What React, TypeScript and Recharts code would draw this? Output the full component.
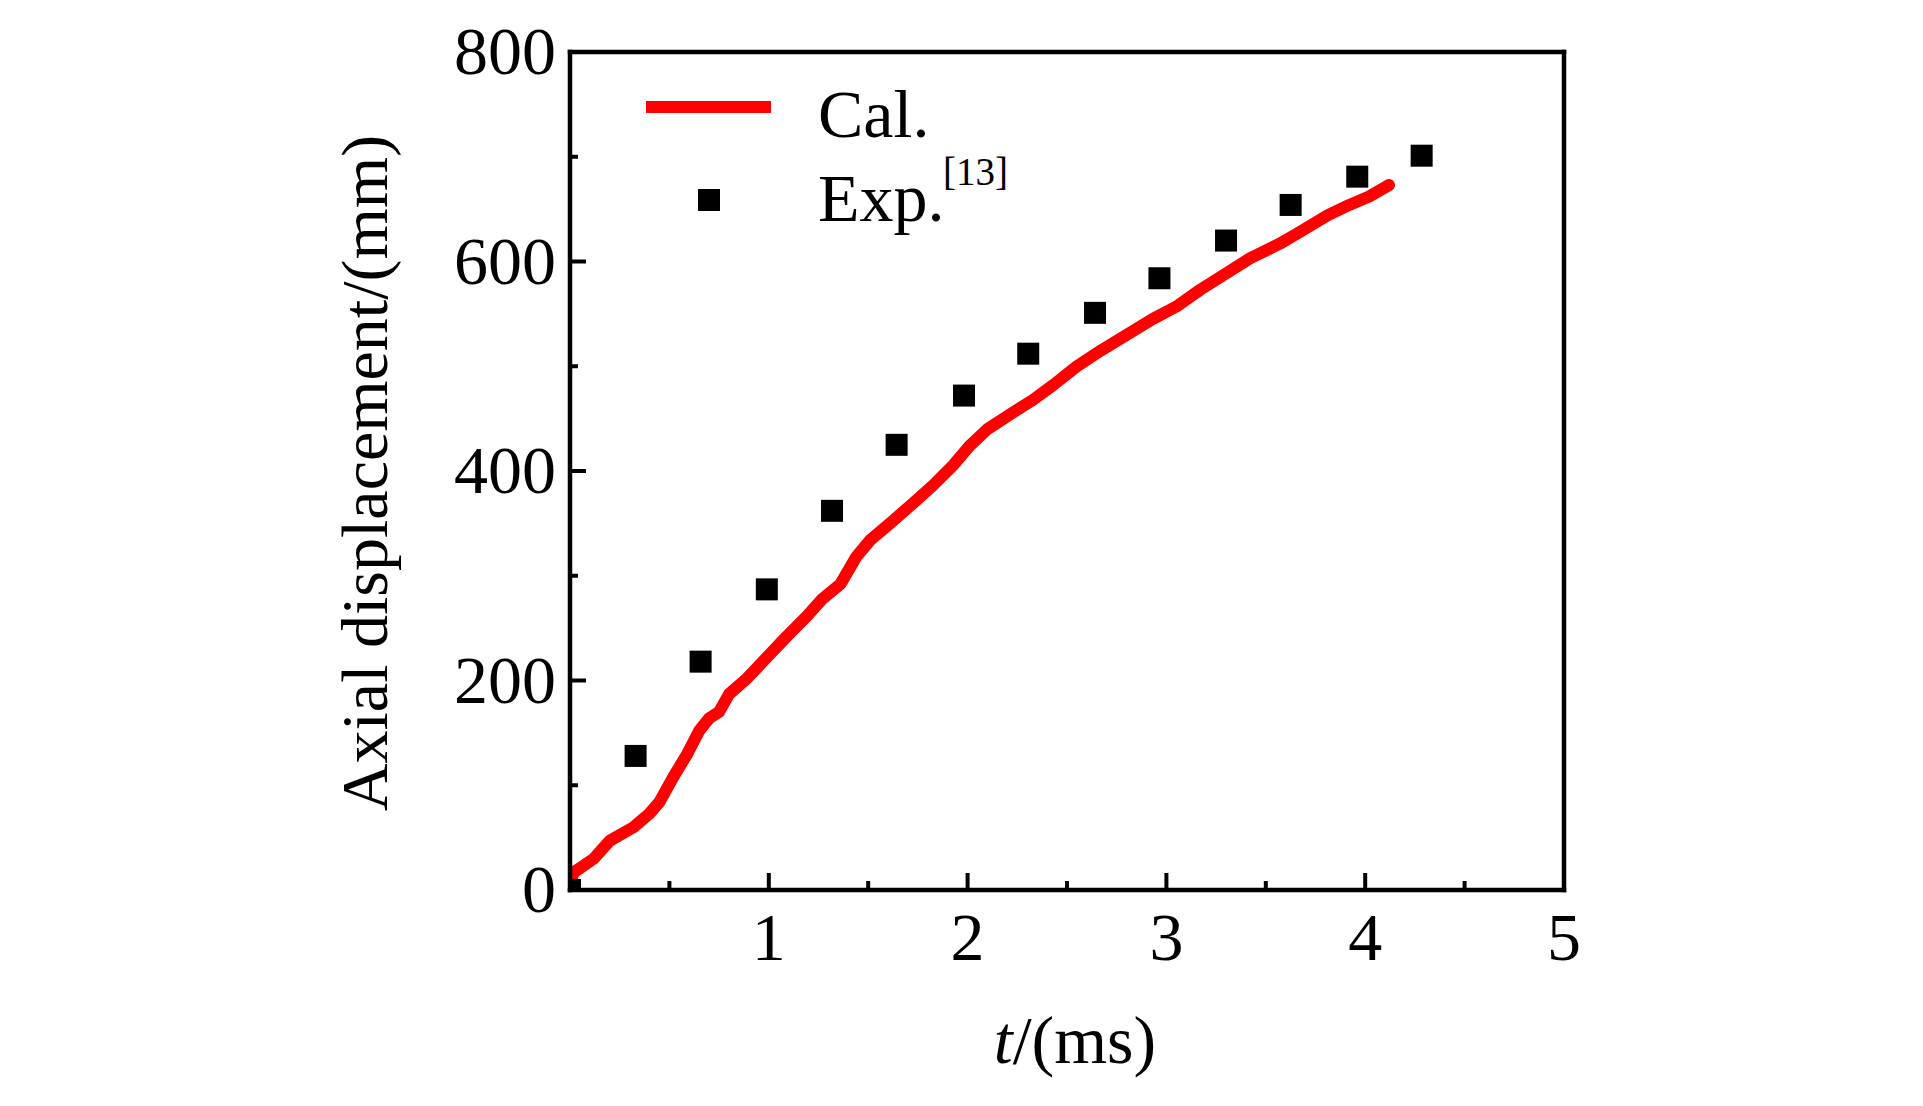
import React from "react";
import {
  ComposedChart,
  Line,
  Scatter,
  XAxis,
  YAxis,
  Legend,
} from "recharts";

// Calculated curve (t in ms, axial displacement in mm)
const calT = [
  0.01, 0.02, 0.12, 0.2, 0.32, 0.4, 0.45, 0.52, 0.59, 0.65, 0.7, 0.75, 0.8,
  0.89, 0.99, 1.09, 1.19, 1.27, 1.36, 1.44, 1.51, 1.61, 1.73, 1.83, 1.93,
  2.01, 2.1, 2.23, 2.33, 2.43, 2.55, 2.67, 2.8, 2.93, 3.05, 3.17, 3.27, 3.42,
  3.57, 3.67, 3.81, 3.92, 4.02, 4.12,
];
const calV = [
  12, 17, 30, 47, 60, 73, 84, 108, 130, 152, 164, 170, 187, 202, 222, 242,
  261, 278, 292, 318, 334, 350, 370, 387, 406, 424, 440, 456, 468, 482, 500,
  515, 530, 545, 557, 573, 585, 603, 617, 628, 644, 654, 662, 673,
];

// Experimental points [13]
const expT = [
  0, 0.33, 0.657, 0.99, 1.318, 1.643, 1.982, 2.305, 2.641, 2.965, 3.3, 3.625,
  3.96, 4.284,
];
const expV = [0, 128, 218, 287, 362, 425, 472, 512, 551, 584, 620, 654, 681, 701];

const xMajor = [1, 2, 3, 4, 5];
const xTicks = [0, 0.5, 1, 1.5, 2, 2.5, 3, 3.5, 4, 4.5, 5];
const yMajor = [0, 200, 400, 600, 800];
const yTicks = [0, 100, 200, 300, 400, 500, 600, 700, 800];

const seriesNames = ["Cal.", "Exp."];
const expRef = "[13]";

const calData = calT.map((t, i) => ({ t, v: calV[i] }));
const expData = expT.map((t, i) => ({ t, v: expV[i] }));

const FONT = "'Liberation Serif', 'Times New Roman', serif";
const FS = 68;

const XTick = (props: any) => {
  const { x, y, payload } = props;
  const major = Number.isInteger(payload.value);
  return (
    <g>
      <line x1={x} y1={y} x2={x} y2={y - (major ? 17 : 9)} stroke="#000" strokeWidth={4} />
      {xMajor.includes(payload.value) && (
        <text x={x} y={y + 70} textAnchor="middle" fontFamily={FONT} fontSize={FS} fill="#000">
          {payload.value}
        </text>
      )}
    </g>
  );
};

const YTick = (props: any) => {
  const { x, y, payload } = props;
  const major = yMajor.includes(payload.value);
  return (
    <g>
      <line x1={x} y1={y} x2={x + (major ? 16 : 8)} y2={y} stroke="#000" strokeWidth={4} />
      {major && (
        <text x={x - 14} y={y} dy="0.33em" textAnchor="end" fontFamily={FONT} fontSize={FS} fill="#000">
          {payload.value}
        </text>
      )}
    </g>
  );
};

const Square = (props: any) => {
  const { cx, cy } = props;
  return <rect x={cx - 11} y={cy - 11} width={22} height={22} fill="#000" />;
};

const LegendBox = () => (
  <svg width={1100} height={260} style={{ overflow: "visible" }}>
    <line x1={646} y1={107} x2={771} y2={107} stroke="#ff0000" strokeWidth={12} />
    <text x={818} y={137} fontFamily={FONT} fontSize={FS} fill="#000">
      {seriesNames[0]}
    </text>
    <rect x={698} y={189} width={22} height={22} fill="#000" />
    <text x={818} y={221} fontFamily={FONT} fontSize={FS} fill="#000">
      {seriesNames[1]}
    </text>
    <text x={943} y={185} fontFamily={FONT} fontSize={39} fill="#000">
      {expRef}
    </text>
  </svg>
);

const axisLine = { stroke: "#000", strokeWidth: 4.5, strokeLinecap: "square" as const };

export default function App() {
  return (
    <div style={{ position: "absolute", left: 0, top: 0, background: "#fff" }}>
      <ComposedChart
        width={1923}
        height={1106}
        margin={{ top: 51, left: 569, right: 358, bottom: 215 }}
      >
        <XAxis
          dataKey="t"
          type="number"
          domain={[0, 5]}
          ticks={xTicks}
          interval={0}
          allowDataOverflow
          height={1}
          tickSize={0}
          tickMargin={0}
          tickLine={false}
          axisLine={axisLine}
          tick={<XTick />}
          label={{
            content: (p: any) => {
              const vb = p.viewBox;
              return (
                <text
                  x={vb.x + vb.width / 2 + 8}
                  y={vb.y + 173}
                  textAnchor="middle"
                  fontFamily={FONT}
                  fontSize={FS}
                  fill="#000"
                >
                  <tspan fontStyle="italic">t</tspan>
                  <tspan>/(ms)</tspan>
                </text>
              );
            },
          }}
        />
        <XAxis
          xAxisId="top"
          orientation="top"
          type="number"
          domain={[0, 5]}
          height={1}
          tick={false}
          tickLine={false}
          axisLine={axisLine}
        />
        <YAxis
          type="number"
          domain={[0, 800]}
          ticks={yTicks}
          interval={0}
          allowDataOverflow
          width={1}
          tickSize={0}
          tickMargin={0}
          tickLine={false}
          axisLine={axisLine}
          tick={<YTick />}
          label={{
            content: (p: any) => {
              const vb = p.viewBox;
              const cx = vb.x + vb.width - 183;
              const cy = vb.y + vb.height / 2 + 2;
              return (
                <text
                  x={cx}
                  y={cy}
                  transform={`rotate(-90, ${cx}, ${cy})`}
                  textAnchor="middle"
                  fontFamily={FONT}
                  fontSize={66}
                  fill="#000"
                >
                  Axial displacement/(mm)
                </text>
              );
            },
          }}
        />
        <YAxis
          yAxisId="right"
          orientation="right"
          type="number"
          domain={[0, 800]}
          width={1}
          tick={false}
          tickLine={false}
          axisLine={axisLine}
        />
        <Legend
          layout="horizontal"
          verticalAlign="middle"
          align="center"
          wrapperStyle={{ left: 0, top: 0, width: 1100, height: 260 }}
          content={() => <LegendBox />}
        />
        <Scatter
          name={seriesNames[1]}
          data={expData}
          dataKey="v"
          shape={<Square />}
          isAnimationActive={false}
        />
        <Line
          name={seriesNames[0]}
          data={calData}
          dataKey="v"
          type="linear"
          stroke="#ff0000"
          strokeWidth={12}
          strokeLinejoin="round"
          strokeLinecap="round"
          dot={false}
          activeDot={false}
          isAnimationActive={false}
        />
      </ComposedChart>
    </div>
  );
}
